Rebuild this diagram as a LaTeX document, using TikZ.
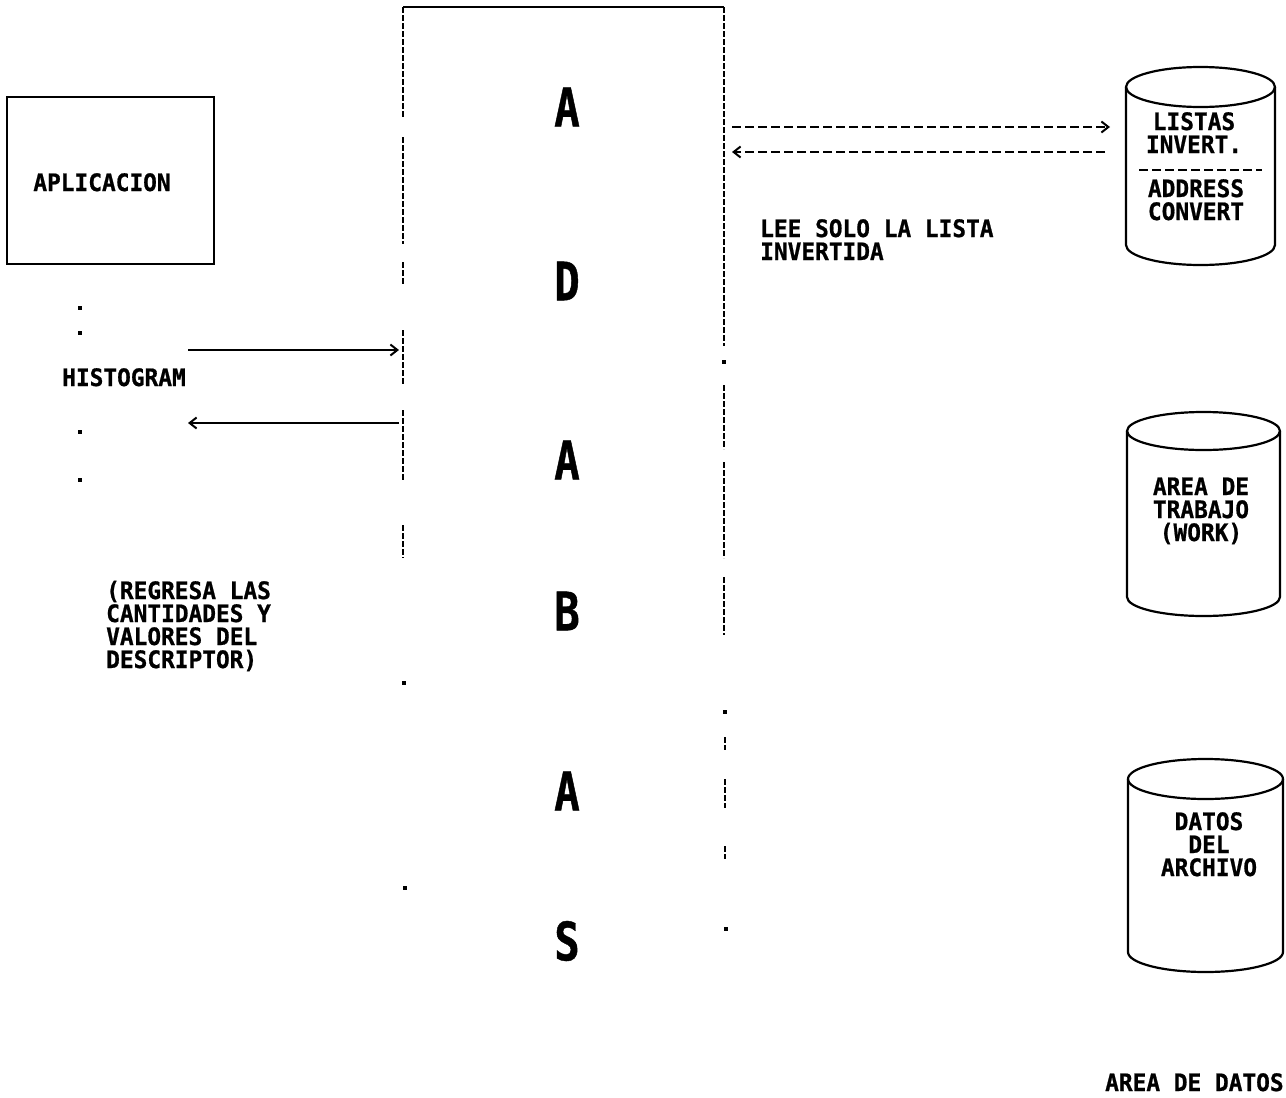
\documentclass[tikz,border=0pt]{standalone}
\usepackage{fontspec}
\usetikzlibrary{arrows.meta}
\newfontfamily\monofnt[FakeStretch=0.95, FakeBold=0.8]{DejaVu Sans Mono}
\newfontfamily\bigfnt[FakeStretch=0.8, FakeBold=0.8]{DejaVu Sans Mono}
\tikzset{
  lbl/.style={inner sep=0pt, font=\monofnt\bfseries\fontsize{24}{23}\selectfont},
  big/.style={inner sep=0pt, font=\bigfnt\bfseries\fontsize{53}{53}\selectfont},
  ln/.style={line width=2.2pt, black},
  side/.style={line width=2pt, black, dash pattern=on 6pt off 2pt},
  arr/.style={ln, -{Straight Barb[length=7pt,width=11pt,line width=2pt]}},
  darr/.style={arr, dash pattern=on 9pt off 4pt},
  dot/.style={fill=black, minimum size=3.5pt, inner sep=0pt}
}
\newcommand\mydrum[5]{% left right topy boty ry
  \draw[ln] ({(#1+#2)/2},#3) ellipse [x radius={(#2-#1)/2}, y radius=#5];
  \draw[ln] (#1,#3) -- (#1,#4) arc [start angle=180, end angle=0, x radius={(#2-#1)/2}, y radius=#5] -- (#2,#3);
}
\begin{document}
\begin{tikzpicture}[x=1pt,y=-1pt]
\useasboundingbox (0,0) rectangle (1286,1098);
\fill[white] (0,0) rectangle (1286,1098);

% APLICACION box
\node[draw, ln, minimum width=207pt, minimum height=167pt, inner sep=0pt] (apbox) at (110.5,180.5) {};
\node[lbl, anchor=base] (aplic) at (102,191) {APLICACION};

% dots and histogram
\node[dot] (d1) at (80,308) {};
\node[dot] (d2) at (80,333) {};
\node[dot] (d3) at (80,432) {};
\node[dot] (d4) at (80,480) {};
\node[lbl, anchor=base] (histo) at (124,386) {HISTOGRAM};

% ADABAS box
\coordinate (abTL) at (403,7);
\coordinate (abTR) at (724,7);
\draw[ln] (abTL) -- (abTR);
\draw[side] (403,7) -- (403,118);
\draw[side] (403,137) -- (403,244);
\draw[side] (403,262) -- (403,284);
\draw[side] (403,330) -- (403,385);
\draw[side] (403,410) -- (403,480);
\draw[side] (403,525) -- (403,558);
\node[dot] (ld1) at (404,683) {};
\node[dot] (ld2) at (405,888) {};
\draw[side] (724,7) -- (724,346);
\node[dot] (rd0) at (724,362) {};
\draw[side] (724,385) -- (724,449);
\draw[side] (724,462) -- (724,558);
\draw[side] (724,577) -- (724,635);
\node[dot] (rd1) at (725,712) {};
\draw[side] (725,737) -- (725,750);
\draw[side] (725,779) -- (725,808);
\draw[side] (725,846) -- (725,859);
\node[dot] (rd2) at (726,929) {};

\node[big] (a1) at (567,107) {A};
\node[big] (a2) at (567,281) {D};
\node[big] (a3) at (567,460) {A};
\node[big] (a4) at (567,611) {B};
\node[big] (a5) at (567,791) {A};
\node[big] (a6) at (567,941) {S};

% left arrows
\coordinate (hR1) at (188,350);
\coordinate (abL1) at (399,350);
\coordinate (abL2) at (399,423);
\coordinate (hR2) at (188,423);
\draw[arr] (hR1) -- (abL1);
\draw[arr] (abL2) -- (hR2);

\node[lbl, anchor=base west, align=left] (regresa) at (106,668) {(REGRESA LAS\\CANTIDADES Y\\VALORES DEL\\DESCRIPTOR)};

% right arrows
\coordinate (abR1) at (732,127);
\coordinate (cyl1a) at (1110,127);
\coordinate (cyl1b) at (1105,152);
\coordinate (abR2) at (732,152);
\draw[darr] (abR1) -- (cyl1a);
\draw[darr] (cyl1b) -- (abR2);

\node[lbl, anchor=base west, align=left] (lee) at (760,260) {LEE SOLO LA LISTA\\INVERTIDA};

% cylinders
\mydrum{1126}{1275}{87}{245}{20}
\mydrum{1127}{1280}{431}{597}{19}
\mydrum{1128}{1283}{779}{952}{20}
\draw[ln, dash pattern=on 9pt off 4pt] (1139,170) -- (1262,170);

\node[lbl, anchor=base, align=center] (listas) at (1194,153) {LISTAS\\INVERT.};
\node[lbl, anchor=base, align=center] (addr) at (1196,220) {ADDRESS\\CONVERT};
\node[lbl, anchor=base, align=center] (area) at (1201,541) {AREA DE\\TRABAJO\\(WORK)};
\node[lbl, anchor=base, align=center] (datos) at (1209,876) {DATOS\\DEL\\ARCHIVO};

\node[lbl, anchor=base west] (areadatos) at (1105,1091) {AREA DE DATOS};
\end{tikzpicture}
\end{document}
